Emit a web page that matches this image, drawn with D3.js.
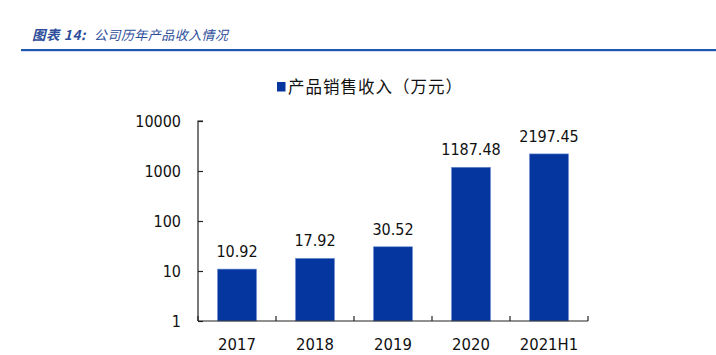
<!DOCTYPE html>
<html><head><meta charset="utf-8">
<script src="https://cdn.jsdelivr.net/npm/d3@7/dist/d3.min.js"></script>
<style>
body{margin:0;background:#fff;}
svg{display:block;}
</style></head>
<body><svg id="chart" width="716" height="355"></svg>
<script>
const categories = ["2017","2018","2019","2020","2021H1"];
const values = [10.92, 17.92, 30.52, 1187.48, 2197.45];
const valueLabels = ["10.92","17.92","30.52","1187.48","2197.45"];
const yTicks = [1, 10, 100, 1000, 10000];
const seriesName = "产品销售收入（万元）";
const titlePrefix = "图表 14:";
const titleText = "公司历年产品收入情况";

const svg = d3.select("#chart");
const numFont = "'DejaVu Sans Condensed','DejaVu Sans',Tahoma,sans-serif";
const cjkFont = "'Noto Sans CJK SC','Noto Sans',sans-serif";

// header
svg.append("text").attr("x", 32).attr("y", 40)
  .attr("font-family", "'Noto Sans CJK SC',serif").attr("font-size", 13.5)
  .attr("font-style", "italic").attr("font-weight", "bold").attr("fill", "#2d4d9a")
  .attr("letter-spacing", 0.6)
  .text(titlePrefix);
svg.append("text").attr("x", 94).attr("y", 40)
  .attr("font-family", "'Noto Sans CJK SC',serif").attr("font-size", 13)
  .attr("font-style", "italic").attr("fill", "#2d4d9a")
  .attr("letter-spacing", 0.45)
  .text(titleText);
svg.append("rect").attr("x", 21).attr("y", 49).attr("width", 695).attr("height", 2.2).attr("fill", "#1f58b0");

const x = d3.scaleBand().domain(categories).range([198, 588]).paddingInner(0.5).paddingOuter(0.25);
const y = d3.scaleLog().domain([1, 10000]).range([321, 121]);

// bars
svg.append("g").selectAll("rect").data(values).join("rect")
  .attr("x", (d, i) => x(categories[i]))
  .attr("y", d => y(d))
  .attr("width", x.bandwidth())
  .attr("height", d => y(1) - y(d))
  .attr("fill", "#0536a0")
  .attr("stroke", "#6f8fd0").attr("stroke-width", 0.6);

// value labels
svg.append("g").selectAll("text").data(values).join("text")
  .attr("x", (d, i) => x(categories[i]) + x.bandwidth() / 2)
  .attr("y", d => y(d) - 12)
  .attr("text-anchor", "middle")
  .attr("font-family", numFont).attr("font-size", 16).attr("fill", "#111")
  .text((d, i) => valueLabels[i]);

// y axis
const yAxis = d3.axisRight(y).tickValues(yTicks).tickSize(5).tickFormat("");
const gy = svg.append("g").attr("transform", "translate(198,0)").call(yAxis);
gy.select(".domain").attr("d", "M5,121H0V321");
gy.selectAll("line, path").attr("stroke", "#222").attr("stroke-width", 1.2);
svg.append("g").selectAll("text").data(yTicks).join("text")
  .attr("x", 181).attr("y", d => y(d) + 6)
  .attr("text-anchor", "end")
  .attr("font-family", numFont).attr("font-size", 16).attr("fill", "#111")
  .text(d => d3.format("d")(d));

// x axis
const bandStep = x.step();
const xTickPos = d3.range(categories.length + 1).map(i => 198 + i * bandStep);
svg.append("line").attr("x1", 198).attr("x2", 588).attr("y1", 321).attr("y2", 321)
  .attr("stroke", "#222").attr("stroke-width", 1.2);
svg.append("g").selectAll("line").data(xTickPos).join("line")
  .attr("x1", d => d).attr("x2", d => d).attr("y1", 321).attr("y2", 316)
  .attr("stroke", "#222").attr("stroke-width", 1.2);
svg.append("g").selectAll("text").data(categories).join("text")
  .attr("x", d => x(d) + x.bandwidth() / 2).attr("y", 350)
  .attr("text-anchor", "middle")
  .attr("font-family", numFont).attr("font-size", 16.5).attr("fill", "#111")
  .text(d => d);

// legend
svg.append("rect").attr("x", 277).attr("y", 82).attr("width", 8.5).attr("height", 9.5).attr("fill", "#0536a0");
svg.append("text").attr("x", 288).attr("y", 93)
  .attr("font-family", cjkFont).attr("font-size", 16.5).attr("fill", "#111")
  .attr("letter-spacing", 1)
  .text(seriesName);
</script></body></html>
